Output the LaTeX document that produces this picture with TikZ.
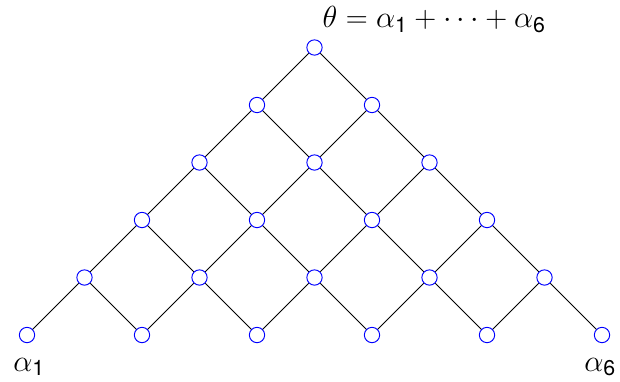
\documentclass[tikz,border=0pt]{standalone}
\usepackage{fix-cm}
\usepackage{fontspec}
\setsansfont{TeX Gyre Heros}
\usepackage{tikz}
\tikzstyle{root} = [circle, draw=blue, line width=0.8pt, fill=white, inner sep=0pt, minimum size=0.46cm]
\tikzstyle{edge} = [black, line width=0.7pt]
\tikzstyle{lbl} = [inner sep=0pt, font=\fontsize{26}{31}\selectfont]

\begin{document}
\begin{tikzpicture}[x=0.03cm, y=-0.03cm]
        \useasboundingbox (0,0) rectangle (620,381);
        % simple roots
        \node [root] (a11) at (27,335) {};
        \node [root] (a22) at (142,335) {};
        \node [root] (a33) at (257,335) {};
        \node [root] (a44) at (372,335) {};
        \node [root] (a55) at (487,335) {};
        \node [root] (a66) at (602,335) {};
        % height 2
        \node [root] (a12) at (84.5,277.5) {};
        \node [root] (a23) at (199.5,277.5) {};
        \node [root] (a34) at (314.5,277.5) {};
        \node [root] (a45) at (429.5,277.5) {};
        \node [root] (a56) at (544.5,277.5) {};
        % height 3
        \node [root] (a13) at (142,220) {};
        \node [root] (a24) at (257,220) {};
        \node [root] (a35) at (372,220) {};
        \node [root] (a46) at (487,220) {};
        % height 4
        \node [root] (a14) at (199.5,162.5) {};
        \node [root] (a25) at (314.5,162.5) {};
        \node [root] (a36) at (429.5,162.5) {};
        % height 5
        \node [root] (a15) at (257,105) {};
        \node [root] (a26) at (372,105) {};
        % highest root
        \node [root] (a16) at (314.5,47.5) {};
        \draw [edge] (a12) -- (a11);
        \draw [edge] (a12) -- (a22);
        \draw [edge] (a23) -- (a22);
        \draw [edge] (a23) -- (a33);
        \draw [edge] (a34) -- (a33);
        \draw [edge] (a34) -- (a44);
        \draw [edge] (a45) -- (a44);
        \draw [edge] (a45) -- (a55);
        \draw [edge] (a56) -- (a55);
        \draw [edge] (a56) -- (a66);
        \draw [edge] (a13) -- (a12);
        \draw [edge] (a13) -- (a23);
        \draw [edge] (a24) -- (a23);
        \draw [edge] (a24) -- (a34);
        \draw [edge] (a35) -- (a34);
        \draw [edge] (a35) -- (a45);
        \draw [edge] (a46) -- (a45);
        \draw [edge] (a46) -- (a56);
        \draw [edge] (a14) -- (a13);
        \draw [edge] (a14) -- (a24);
        \draw [edge] (a25) -- (a24);
        \draw [edge] (a25) -- (a35);
        \draw [edge] (a36) -- (a35);
        \draw [edge] (a36) -- (a46);
        \draw [edge] (a15) -- (a14);
        \draw [edge] (a15) -- (a25);
        \draw [edge] (a26) -- (a25);
        \draw [edge] (a26) -- (a36);
        \draw [edge] (a16) -- (a15);
        \draw [edge] (a16) -- (a26);
        \node [lbl] (l1) at (29,367) {$\alpha_{\mathsf{1}}$};
        \node [lbl] (l6) at (600,367) {$\alpha_{\mathsf{6}}$};
        \node [lbl] (top) at (434,19.5) {$\theta=\alpha_{\mathsf{1}}+\cdots+\alpha_{\mathsf{6}}$};
\end{tikzpicture}
\end{document}
